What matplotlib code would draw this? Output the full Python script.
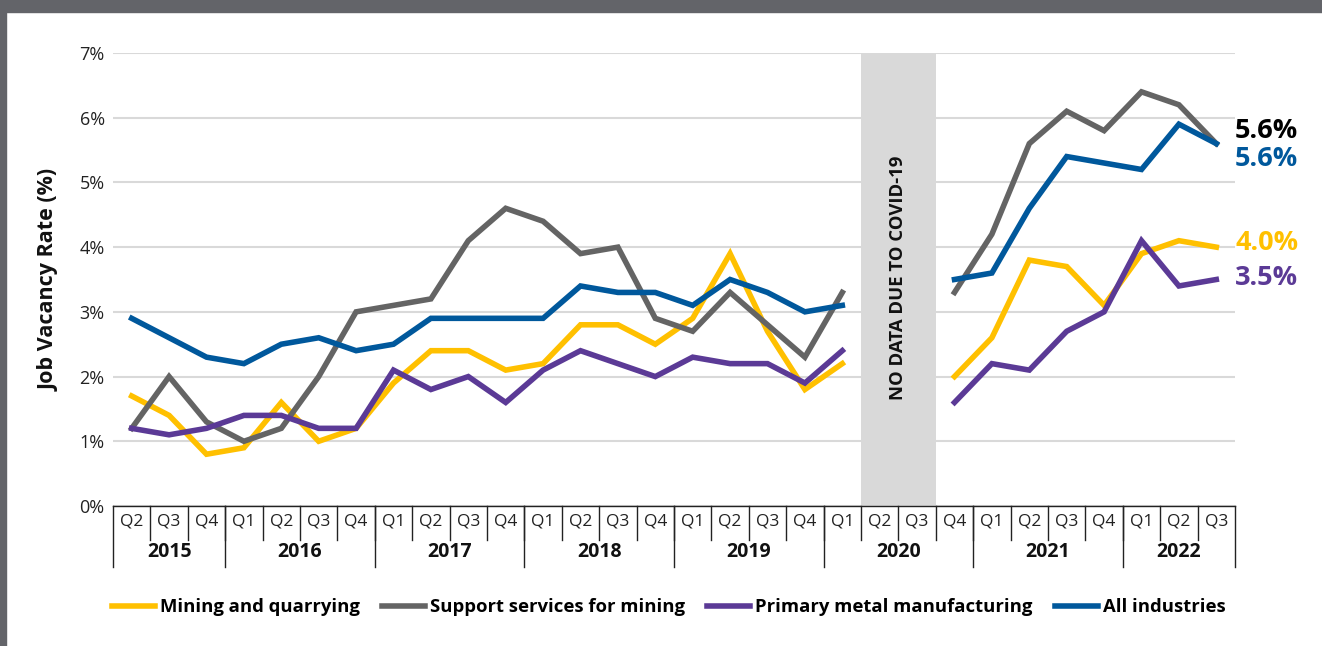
import matplotlib
matplotlib.use("Agg")
import matplotlib.pyplot as plt
import matplotlib.transforms as mtransforms
from matplotlib.patches import Rectangle
import numpy as np

plt.rcParams['font.family'] = ['Open Sans', 'DejaVu Sans']

quarters = ['Q2', 'Q3', 'Q4',
            'Q1', 'Q2', 'Q3', 'Q4',
            'Q1', 'Q2', 'Q3', 'Q4',
            'Q1', 'Q2', 'Q3', 'Q4',
            'Q1', 'Q2', 'Q3', 'Q4',
            'Q1', 'Q2', 'Q3', 'Q4',
            'Q1', 'Q2', 'Q3', 'Q4',
            'Q1', 'Q2', 'Q3']
years = ['2015', '2016', '2017', '2018', '2019', '2020', '2021', '2022']
quarters_per_year = [3, 4, 4, 4, 4, 4, 4, 3]

nan = np.nan
mining = [1.7, 1.4, 0.8, 0.9, 1.6, 1.0, 1.2, 1.9, 2.4, 2.4, 2.1, 2.2, 2.8, 2.8, 2.5,
          2.9, 3.9, 2.7, 1.8, 2.2, nan, nan, 2.0, 2.6, 3.8, 3.7, 3.1, 3.9, 4.1, 4.0]
support = [1.2, 2.0, 1.3, 1.0, 1.2, 2.0, 3.0, 3.1, 3.2, 4.1, 4.6, 4.4, 3.9, 4.0, 2.9,
           2.7, 3.3, 2.8, 2.3, 3.3, nan, nan, 3.3, 4.2, 5.6, 6.1, 5.8, 6.4, 6.2, 5.6]
metal = [1.2, 1.1, 1.2, 1.4, 1.4, 1.2, 1.2, 2.1, 1.8, 2.0, 1.6, 2.1, 2.4, 2.2, 2.0,
         2.3, 2.2, 2.2, 1.9, 2.4, nan, nan, 1.6, 2.2, 2.1, 2.7, 3.0, 4.1, 3.4, 3.5]
all_ind = [2.9, 2.6, 2.3, 2.2, 2.5, 2.6, 2.4, 2.5, 2.9, 2.9, 2.9, 2.9, 3.4, 3.3, 3.3,
           3.1, 3.5, 3.3, 3.0, 3.1, nan, nan, 3.5, 3.6, 4.6, 5.4, 5.3, 5.2, 5.9, 5.6]

series = [
    ('Mining and quarrying', mining, '#FFC000'),
    ('Support services for mining', support, '#646464'),
    ('Primary metal manufacturing', metal, '#5B3A96'),
    ('All industries', all_ind, '#00589C'),
]
no_data = (20, 21)  # 2020 Q2-Q3

fig = plt.figure(figsize=(13.22, 6.46), dpi=100)
W, H = 1322, 646

# dark frame along the top and left
fig.patches.append(Rectangle((0, 1 - 12 / H), 1, 12 / H, transform=fig.transFigure,
                             color='#636469', zorder=0))
fig.patches.append(Rectangle((0, 0), 6 / W, 1, transform=fig.transFigure,
                             color='#636469', zorder=0))

ax = fig.add_axes([113 / W, 1 - 506 / H, (1235 - 113) / W, (506 - 53) / H])
x = np.arange(len(quarters))
ax.set_xlim(-0.5, len(quarters) - 0.5)
ax.set_ylim(0, 7)

ax.axvspan(no_data[0] - 0.5, no_data[1] + 0.5, color='#D9D9D9', zorder=1, lw=0)
ax.text((no_data[0] + no_data[1]) / 2, 3.52, 'NO DATA DUE TO COVID-19', rotation=90,
        ha='center', va='center', fontsize=13.3, fontweight='bold', color='#111111', zorder=2)

ax.set_yticks(range(8))
ax.set_yticklabels([f'{v}%' for v in range(8)], fontsize=13, color='#222222')
ax.yaxis.grid(True, color='#D9D9D9', lw=1.5, zorder=0)
ax.tick_params(axis='y', length=0, pad=6)
ax.tick_params(axis='x', length=0, labelbottom=False)
for s in ['top', 'right', 'left']:
    ax.spines[s].set_visible(False)
ax.spines['bottom'].set_color('#222222')
ax.spines['bottom'].set_linewidth(1)
ax.set_axisbelow(True)

for name, vals, col in series:
    ax.plot(x, vals, color=col, lw=4, label=name, zorder=3, solid_joinstyle='miter')

# end-of-line values
ends = [(support, '#000000', 5.80), (all_ind, '#00589C', 5.36),
        (mining, '#FFC000', 4.06), (metal, '#5B3A96', 3.52)]
for vals, col, ypos in ends:
    ax.text(len(quarters) - 0.5, ypos, f'{vals[-1]:.1f}%', color=col, fontsize=19.5,
            fontweight='bold', ha='left', va='center', clip_on=False)

# two-level category axis
trans = mtransforms.blended_transform_factory(ax.transData, fig.transFigure)
y0 = 1 - 506 / H
for i, q in enumerate(quarters):
    ax.text(i, 1 - 522 / H, q, transform=trans, ha='center', va='center',
            fontsize=12.5, color='#222222')
for i in range(1, len(quarters)):
    ax.plot([i - 0.5, i - 0.5], [y0, 1 - 540 / H], transform=trans, color='#222222',
            lw=1, clip_on=False)
edges = np.concatenate([[0], np.cumsum(quarters_per_year)])
for k, yr in enumerate(years):
    mid = (edges[k] + edges[k + 1]) / 2 - 0.5
    ax.text(mid, 1 - 552 / H, yr, transform=trans, ha='center', va='center',
            fontsize=14, fontweight='bold', color='#111111')
for e in edges:
    ax.plot([e - 0.5, e - 0.5], [y0, 1 - 567 / H], transform=trans, color='#222222',
            lw=1, clip_on=False)

ax.set_ylabel('Job Vacancy Rate (%)', fontsize=15.5, fontweight='bold', color='#111111',
              labelpad=14)

fig.legend(loc='center', bbox_to_anchor=(669 / W, 1 - 607 / H), ncol=4, frameon=False,
           prop={'weight': 'bold', 'size': 13.3}, handlelength=2.3, handletextpad=0.3,
           columnspacing=1.2)

fig.savefig('out.png', dpi=100)
